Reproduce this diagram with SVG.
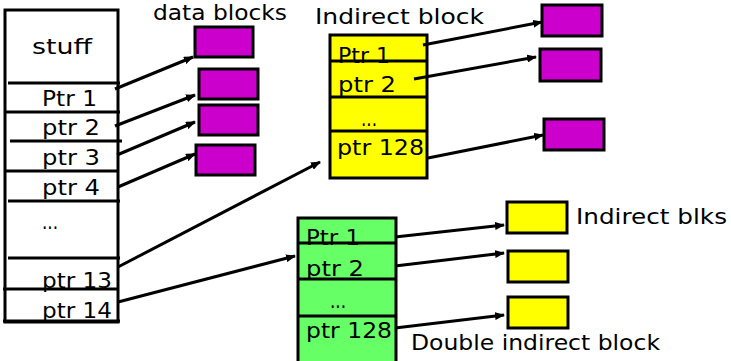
<svg xmlns="http://www.w3.org/2000/svg" width="731" height="361" viewBox="0 0 731 361">
<defs>
<marker id="ah" markerWidth="10" markerHeight="8" refX="9" refY="4" orient="auto" markerUnits="userSpaceOnUse">
<path d="M0,0 L10,4 L0,8 Z" fill="#000"/>
</marker>
<style>
text{font-family:"DejaVu Sans","Liberation Sans",sans-serif;font-size:22px;fill:#000}
.box{stroke:#000;stroke-width:3}
.mag{fill:#CC00CC}
.yel{fill:#FFFF00}
.grn{fill:#66FF66}
.sep{stroke:#000;stroke-width:3;fill:none}
.conn line{stroke:#000;stroke-width:3;marker-end:url(#ah)}
</style>
</defs>
<rect width="731" height="361" fill="#fff"/>

<g id="labels">
<text x="153" y="20" font-size="21" textLength="134" lengthAdjust="spacingAndGlyphs">data blocks</text>
<text x="315" y="24" textLength="169" lengthAdjust="spacingAndGlyphs">Indirect block</text>
<text x="576" y="224" textLength="151" lengthAdjust="spacingAndGlyphs">Indirect blks</text>
<text x="411" y="350" textLength="249" lengthAdjust="spacingAndGlyphs">Double indirect block</text>
</g>

<g id="inode">
<rect x="5" y="10" width="113" height="312" fill="#fff" class="box"/>
<line class="sep" x1="8" y1="83" x2="120" y2="83"/>
<line class="sep" x1="5" y1="112" x2="120" y2="112"/>
<line class="sep" x1="10" y1="141" x2="122" y2="141"/>
<line class="sep" x1="5" y1="171" x2="118" y2="171"/>
<line class="sep" x1="8" y1="201" x2="120" y2="201"/>
<line class="sep" x1="8" y1="258" x2="120" y2="258"/>
<line class="sep" x1="3" y1="289" x2="118" y2="289"/>
<line class="sep" x1="3" y1="321" x2="120" y2="321"/>
<text x="32" y="54" textLength="60" lengthAdjust="spacingAndGlyphs">stuff</text>
<text x="42" y="106" textLength="55" lengthAdjust="spacingAndGlyphs">Ptr 1</text>
<text x="42" y="135" textLength="58" lengthAdjust="spacingAndGlyphs">ptr 2</text>
<text x="42" y="165" textLength="58" lengthAdjust="spacingAndGlyphs">ptr 3</text>
<text x="42" y="195" textLength="58" lengthAdjust="spacingAndGlyphs">ptr 4</text>
<text x="42" y="229" textLength="16" lengthAdjust="spacingAndGlyphs">...</text>
<text x="42" y="288" textLength="70" lengthAdjust="spacingAndGlyphs">ptr 13</text>
<text x="42" y="318" textLength="70" lengthAdjust="spacingAndGlyphs">ptr 14</text>
</g>

<g id="data-blocks">
<rect class="box mag" x="195" y="27" width="58" height="30"/>
<rect class="box mag" x="199" y="69" width="59" height="30"/>
<rect class="box mag" x="199" y="105" width="59" height="30"/>
<rect class="box mag" x="196" y="145" width="59" height="30"/>
</g>

<g id="indirect-block">
<rect class="box yel" x="330" y="35" width="97" height="143"/>
<line class="sep" x1="330" y1="61" x2="427" y2="61"/>
<line class="sep" x1="330" y1="97" x2="427" y2="97"/>
<line class="sep" x1="330" y1="131" x2="427" y2="131"/>
<text x="338" y="63" textLength="52" lengthAdjust="spacingAndGlyphs">Ptr 1</text>
<text x="338" y="92" textLength="58" lengthAdjust="spacingAndGlyphs">ptr 2</text>
<text x="361" y="126" textLength="16" lengthAdjust="spacingAndGlyphs">...</text>
<text x="337" y="155" textLength="87" lengthAdjust="spacingAndGlyphs">ptr 128</text>
</g>

<g id="indirect-data">
<rect class="box mag" x="542" y="5" width="60" height="31"/>
<rect class="box mag" x="540" y="49" width="61" height="32"/>
<rect class="box mag" x="544" y="119" width="60" height="31"/>
</g>

<g id="double-indirect-block">
<rect class="box grn" x="298" y="218" width="98" height="150"/>
<line class="sep" x1="298" y1="243" x2="396" y2="243"/>
<line class="sep" x1="298" y1="279" x2="396" y2="279"/>
<line class="sep" x1="298" y1="316" x2="396" y2="316"/>
<text x="306" y="245" textLength="54" lengthAdjust="spacingAndGlyphs">Ptr 1</text>
<text x="306" y="276" textLength="58" lengthAdjust="spacingAndGlyphs">ptr 2</text>
<text x="330" y="308" textLength="16" lengthAdjust="spacingAndGlyphs">...</text>
<text x="306" y="338" textLength="86" lengthAdjust="spacingAndGlyphs">ptr 128</text>
</g>

<g id="indirect-blks">
<rect class="box yel" x="507" y="202" width="60" height="31"/>
<rect class="box yel" x="508" y="251" width="60" height="31"/>
<rect class="box yel" x="508" y="297" width="60" height="31"/>
</g>

<g id="connectors" class="conn">
<line x1="115" y1="89" x2="193" y2="57"/>
<line x1="115" y1="126" x2="195" y2="95"/>
<line x1="117" y1="155" x2="195" y2="122"/>
<line x1="118" y1="187" x2="195" y2="154"/>
<line x1="118" y1="267" x2="320" y2="162"/>
<line x1="118" y1="302" x2="295" y2="256"/>
<line x1="423" y1="45" x2="542" y2="22"/>
<line x1="414" y1="79" x2="536" y2="57"/>
<line x1="428" y1="158" x2="543" y2="135"/>
<line x1="395" y1="237" x2="504" y2="225"/>
<line x1="395" y1="266" x2="504" y2="253"/>
<line x1="395" y1="328" x2="504" y2="315"/>
</g>
</svg>
